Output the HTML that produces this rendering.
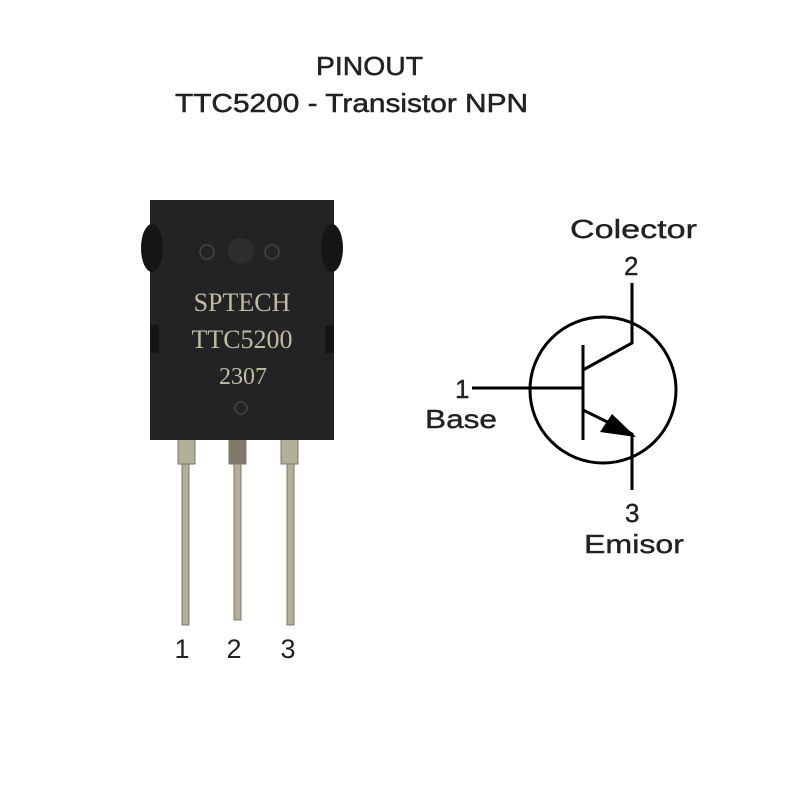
<!DOCTYPE html>
<html><head><style>
body{margin:0;width:800px;height:800px;background:#fff;overflow:hidden;font-family:"Liberation Sans",sans-serif}
</style></head><body>
<svg width="800" height="800" xmlns="http://www.w3.org/2000/svg">
<g font-family="Liberation Sans" fill="#222" font-size="26" stroke="#222" stroke-width="0.5">
<text x="316" y="75" textLength="107" lengthAdjust="spacingAndGlyphs">PINOUT</text>
<text x="175" y="112" textLength="353" lengthAdjust="spacingAndGlyphs">TTC5200 - Transistor NPN</text>
</g>
<!-- leads -->
<g fill="#b3b09a" stroke="#7b7a6a" stroke-width="1">
<rect x="182" y="460" width="7" height="165"/>
<rect x="234" y="460" width="7" height="160"/>
<rect x="287" y="460" width="7" height="165"/>
<rect x="178" y="438" width="17" height="26"/>
<rect x="229" y="438" width="17" height="26" fill="#7d7a6a"/>
<rect x="281" y="438" width="17" height="26"/>
</g>
<!-- body -->
<rect x="150" y="200" width="184" height="240" fill="#232325"/>
<ellipse cx="152" cy="248" rx="11" ry="24" fill="#151516"/>
<ellipse cx="332" cy="248" rx="11" ry="24" fill="#151516"/>
<rect x="150" y="325" width="9" height="28" fill="#151516"/>
<rect x="325" y="325" width="9" height="28" fill="#151516"/>
<circle cx="241" cy="251" r="13" fill="#2d2d2f"/>
<circle cx="207" cy="252" r="7" fill="none" stroke="#444" stroke-width="1.5"/>
<circle cx="272" cy="252" r="7" fill="none" stroke="#444" stroke-width="1.5"/>
<circle cx="241" cy="408" r="6" fill="none" stroke="#444" stroke-width="1.5"/>
<g fill="#c0bca2" font-family="Liberation Serif" font-size="26" text-anchor="middle">
<text x="242" y="311">SPTECH</text>
<text x="242" y="348">TTC5200</text>
<text x="243" y="384" font-size="24">2307</text>
</g>
<g font-size="27" fill="#222" text-anchor="middle">
<text x="182" y="658">1</text><text x="234" y="658">2</text><text x="288" y="658">3</text>
</g>
<!-- symbol -->
<g stroke="#000" stroke-width="3" fill="none">
<circle cx="603" cy="390" r="73"/>
<line x1="472" y1="388" x2="583" y2="388"/>
<line x1="583" y1="345" x2="583" y2="440"/>
<polyline points="583,370 632,343 632,283"/>
<polyline points="583,410 632,434 632,490"/>
</g>
<polygon points="636,437 600,432 612,414" fill="#000"/>
<g font-size="26" fill="#222" stroke="#222" stroke-width="0.4">
<text x="570" y="238" textLength="127" lengthAdjust="spacingAndGlyphs">Colector</text>
<text x="624" y="275">2</text>
<text x="455" y="398">1</text>
<text x="425" y="428" textLength="72" lengthAdjust="spacingAndGlyphs">Base</text>
<text x="625" y="522">3</text>
<text x="584" y="553" textLength="100" lengthAdjust="spacingAndGlyphs">Emisor</text>
</g>
</svg>
</body></html>
